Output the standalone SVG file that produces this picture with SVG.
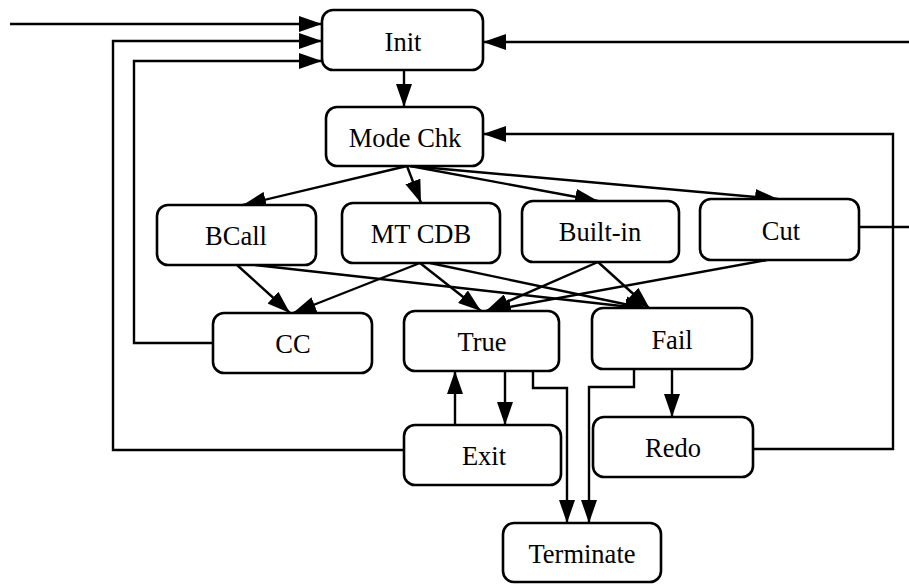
<svg xmlns="http://www.w3.org/2000/svg" width="909" height="584" viewBox="0 0 909 584">
<style>
.box{fill:#fff;stroke:#000;stroke-width:2.6}
.lbl{font-family:"Liberation Serif","Times New Roman",serif;font-size:26.5px;fill:#000;text-anchor:middle}
.c{fill:none;stroke:#000;stroke-width:2.4}
.a{marker-end:url(#ah)}
</style>
<defs>
<marker id="ah" markerUnits="userSpaceOnUse" markerWidth="23" markerHeight="16" refX="23" refY="8" orient="auto" viewBox="0 0 23 16">
<path d="M0,0 L23,8 L0,16 z" fill="#000"/>
</marker>
</defs>
<rect width="909" height="584" fill="#fff"/>
<g id="connectors">
<path class="c a" d="M10,24 H322"/>
<path class="c a" d="M404,450 H113 V41 H322"/>
<path class="c a" d="M213,343 H134 V61 H322"/>
<path class="c a" d="M909,42 H483"/>
<path class="c a" d="M753,449 H893 V134 H483"/>
<path class="c" d="M859,227 H909"/>
<path class="c a" d="M404,70 V107"/>
<path class="c a" d="M407,166 L243,205"/>
<path class="c a" d="M407,166 L421,203"/>
<path class="c a" d="M410,166 L598,201"/>
<path class="c a" d="M410,166 L778,199"/>
<path class="c a" d="M237,265 L290,313"/>
<path class="c a" d="M255,265 L648,309"/>
<path class="c a" d="M420,263 L293,313"/>
<path class="c a" d="M420,263 L481,311"/>
<path class="c a" d="M430,263 L648,309"/>
<path class="c a" d="M598,262 L486,311"/>
<path class="c a" d="M598,262 L650,309"/>
<path class="c a" d="M767,260 L488,311"/>
<path class="c a" d="M505,371 V425"/>
<path class="c a" d="M455,425 V371"/>
<path class="c a" d="M533,371 V388 H567 V523"/>
<path class="c a" d="M634,369 V387 H589 V523"/>
<path class="c a" d="M672,369 V417"/>
</g>
<g id="init"><rect class="box" x="322" y="10" width="161" height="60" rx="11"/><text class="lbl" x="403" y="51">Init</text></g>
<g id="modechk"><rect class="box" x="326" y="107" width="157" height="59" rx="11"/><text class="lbl" x="405" y="147">Mode Chk</text></g>
<g id="bcall"><rect class="box" x="157" y="205" width="159" height="60" rx="11"/><text class="lbl" x="236" y="245">BCall</text></g>
<g id="mtcdb"><rect class="box" x="342" y="203" width="158" height="60" rx="11"/><text class="lbl" x="421" y="243">MT CDB</text></g>
<g id="builtin"><rect class="box" x="522" y="201" width="157" height="61" rx="11"/><text class="lbl" x="600" y="241">Built-in</text></g>
<g id="cut"><rect class="box" x="700" y="199" width="159" height="61" rx="11"/><text class="lbl" x="781" y="240">Cut</text></g>
<g id="cc"><rect class="box" x="213" y="313" width="159" height="60" rx="11"/><text class="lbl" x="293" y="353">CC</text></g>
<g id="true"><rect class="box" x="404" y="311" width="155" height="60" rx="11"/><text class="lbl" x="482" y="351">True</text></g>
<g id="fail"><rect class="box" x="592" y="308" width="160" height="61" rx="11"/><text class="lbl" x="672" y="349">Fail</text></g>
<g id="exit"><rect class="box" x="404" y="425" width="157" height="60" rx="11"/><text class="lbl" x="484" y="465">Exit</text></g>
<g id="redo"><rect class="box" x="593" y="417" width="160" height="60" rx="11"/><text class="lbl" x="673" y="457">Redo</text></g>
<g id="terminate"><rect class="box" x="503" y="523" width="158" height="59" rx="11"/><text class="lbl" x="582" y="563">Terminate</text></g>
</svg>
